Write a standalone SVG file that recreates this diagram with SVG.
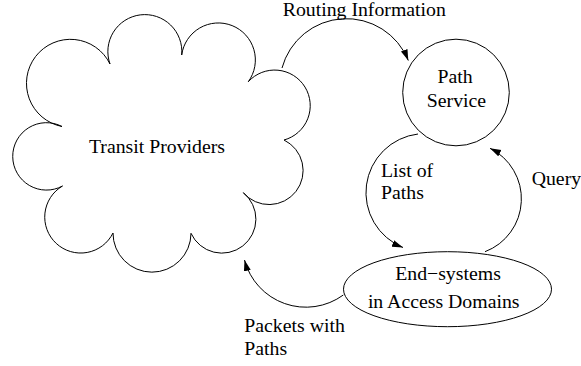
<svg xmlns="http://www.w3.org/2000/svg" width="581" height="366" viewBox="0 0 581 366">
<style>
.ln{fill:none;stroke:#000;stroke-width:1}
.sh{fill:#fff;stroke:#000;stroke-width:1}
.m{text-anchor:middle}
</style>
<defs>
<marker id="ah" markerUnits="userSpaceOnUse" markerWidth="12" markerHeight="8" refX="11" refY="3.5" orient="auto">
<path d="M0,0 L11,3.5 L0,7 z" fill="#000"/>
</marker>
</defs>
<rect width="581" height="366" fill="#fff"/>
<g font-family="'Liberation Serif', 'Times New Roman', Times, serif" font-size="19.8" fill="#000">
<g id="transit">
<path class="sh" d="M62,126.5 A44,44 0 1 1 110,64 A37,37 0 1 1 181.7,55 A37,37 0 1 1 248.3,81.7 A35.6,35.6 0 1 1 284,140 A34,34 0 1 1 243.3,192.7 A34,34 0 1 1 191,233.3 A38.5,38.5 0 1 1 113,233 A36,36 0 1 1 62.5,186 A33.7,33.7 0 1 1 62,126.5 Z"/>
<text class="m" x="157" y="153.3">Transit Providers</text>
</g>
<g id="pathservice">
<circle class="sh" cx="456" cy="92.5" r="53.3"/>
<text class="m" x="455" y="83.3">Path</text>
<text class="m" x="456.5" y="106.7">Service</text>
</g>
<g id="endsystems">
<ellipse class="sh" cx="447.5" cy="289.2" rx="104" ry="37.5"/>
<text class="m" x="448" y="280">End−systems</text>
<text class="m" x="443.7" y="308.3">in Access Domains</text>
</g>
<g id="connectors">
<path class="ln" marker-end="url(#ah)" d="M282,68 A66.7,66.7 0 0 1 408.3,60.5"/>
<path class="ln" marker-end="url(#ah)" d="M418,134 A59.1,59.1 0 0 0 403,247.5"/>
<path class="ln" marker-end="url(#ah)" d="M485,251.7 A56.5,56.5 0 0 0 490,148.3"/>
<path class="ln" marker-end="url(#ah)" d="M343.3,295 A63.5,63.5 0 0 1 244.5,260"/>
<text x="282.7" y="15.5">Routing Information</text>
<text x="381" y="176.7">List of</text>
<text x="381" y="199.3">Paths</text>
<text x="531.7" y="185">Query</text>
<text x="244.3" y="331.7">Packets with</text>
<text x="244.3" y="355">Paths</text>
</g>
</g>
</svg>
